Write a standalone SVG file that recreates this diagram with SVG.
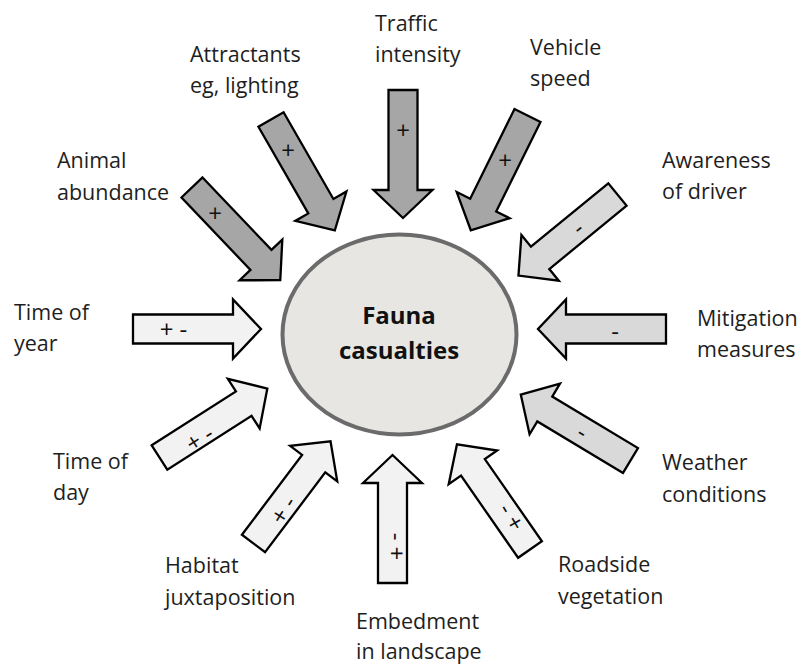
<svg xmlns="http://www.w3.org/2000/svg" xmlns:xlink="http://www.w3.org/1999/xlink" width="804" height="666" viewBox="0 0 804 666">
<defs>
<style>
.lbl{font-family:"Open Sans","DejaVu Sans",sans-serif;font-size:21.5px;fill:#1e1e1e}
.sign{font-family:"Open Sans","DejaVu Sans",sans-serif;font-size:24px;fill:#111;text-anchor:middle;dominant-baseline:central}
.dark{fill:#a6a6a6;stroke:#000;stroke-width:2.3;stroke-linejoin:miter}
.mid{fill:#d9d9d9;stroke:#000;stroke-width:2.3;stroke-linejoin:miter}
.light{fill:#f2f2f2;stroke:#000;stroke-width:2.3;stroke-linejoin:miter}
.center{font-family:"Open Sans","DejaVu Sans",sans-serif;font-size:24px;font-weight:bold;fill:#111;text-anchor:middle}
</style>
<path id="arr" d="M0,-14.5 H100 V-29.5 L128,0 L100,29.5 V14.5 H0 Z"/>
</defs>
<rect width="804" height="666" fill="#fff"/>
<g id="connectors">
<use xlink:href="#arr" href="#arr" class="dark" transform="translate(192,187.5) rotate(46.4)"/>
<use xlink:href="#arr" href="#arr" class="dark" transform="translate(271,119.5) rotate(60.1)"/>
<use xlink:href="#arr" href="#arr" class="dark" transform="translate(403,90) rotate(90)"/>
<use xlink:href="#arr" href="#arr" class="dark" transform="translate(527.5,115.5) rotate(116.3)"/>
<use xlink:href="#arr" href="#arr" class="mid" transform="translate(617.5,194.5) rotate(140.7)"/>
<use xlink:href="#arr" href="#arr" class="mid" transform="translate(666,329) rotate(180)"/>
<use xlink:href="#arr" href="#arr" class="mid" transform="translate(630.5,460.5) rotate(211)"/>
<use xlink:href="#arr" href="#arr" class="light" transform="translate(530,549.5) rotate(235.2)"/>
<use xlink:href="#arr" href="#arr" class="light" transform="translate(392.5,583) rotate(270)"/>
<use xlink:href="#arr" href="#arr" class="light" transform="translate(253.5,543.5) rotate(307)"/>
<use xlink:href="#arr" href="#arr" class="light" transform="translate(159.5,457.5) rotate(327.4)"/>
<use xlink:href="#arr" href="#arr" class="light" transform="translate(133,329) rotate(0)"/>
<text class="sign" x="215" y="212">+</text>
<text class="sign" x="288" y="149">+</text>
<text class="sign" x="403" y="129">+</text>
<text class="sign" x="505" y="159">+</text>
<text class="sign" transform="translate(577,227) rotate(-39)">-</text>
<text class="sign" x="615" y="330">-</text>
<text class="sign" transform="translate(583,431) rotate(31)">-</text>
<text class="sign" transform="translate(512.5,516.5) rotate(60)">- +</text>
<text class="sign" transform="translate(397,546.5) rotate(90)">- +</text>
<text class="sign" transform="translate(282.5,509.5) rotate(-58)">+ -</text>
<text class="sign" transform="translate(199,437.5) rotate(-32.6)">+ -</text>
<text class="sign" x="173.5" y="328">+ -</text>
</g>
<g id="fauna">
<ellipse cx="399.5" cy="334.5" rx="117" ry="100" fill="#e8e6e2" stroke="#6b6b6b" stroke-width="4"/>
<text class="center" x="399" y="324">Fauna</text>
<text class="center" x="399" y="359">casualties</text>
</g>
<g id="animal"><text class="lbl"><tspan x="57" y="168">Animal</tspan><tspan x="57" y="200">abundance</tspan></text></g>
<g id="attractants"><text class="lbl"><tspan x="190" y="62">Attractants</tspan><tspan x="190" y="93">eg, lighting</tspan></text></g>
<g id="traffic"><text class="lbl"><tspan x="375" y="31">Traffic</tspan><tspan x="375" y="62">intensity</tspan></text></g>
<g id="vehicle"><text class="lbl"><tspan x="530" y="55">Vehicle</tspan><tspan x="530" y="86">speed</tspan></text></g>
<g id="awareness"><text class="lbl"><tspan x="662" y="168">Awareness</tspan><tspan x="662" y="199">of driver</tspan></text></g>
<g id="mitigation"><text class="lbl"><tspan x="697" y="326">Mitigation</tspan><tspan x="697" y="357">measures</tspan></text></g>
<g id="weather"><text class="lbl"><tspan x="662" y="470">Weather</tspan><tspan x="662" y="502">conditions</tspan></text></g>
<g id="roadside"><text class="lbl"><tspan x="558" y="572">Roadside</tspan><tspan x="558" y="604">vegetation</tspan></text></g>
<g id="embedment"><text class="lbl"><tspan x="356" y="629">Embedment</tspan><tspan x="356" y="659">in landscape</tspan></text></g>
<g id="habitat"><text class="lbl"><tspan x="165" y="573">Habitat</tspan><tspan x="165" y="605">juxtaposition</tspan></text></g>
<g id="timeofday"><text class="lbl"><tspan x="53" y="469">Time of</tspan><tspan x="53" y="500">day</tspan></text></g>
<g id="timeofyear"><text class="lbl"><tspan x="14" y="320">Time of</tspan><tspan x="14" y="351">year</tspan></text></g>
</svg>
